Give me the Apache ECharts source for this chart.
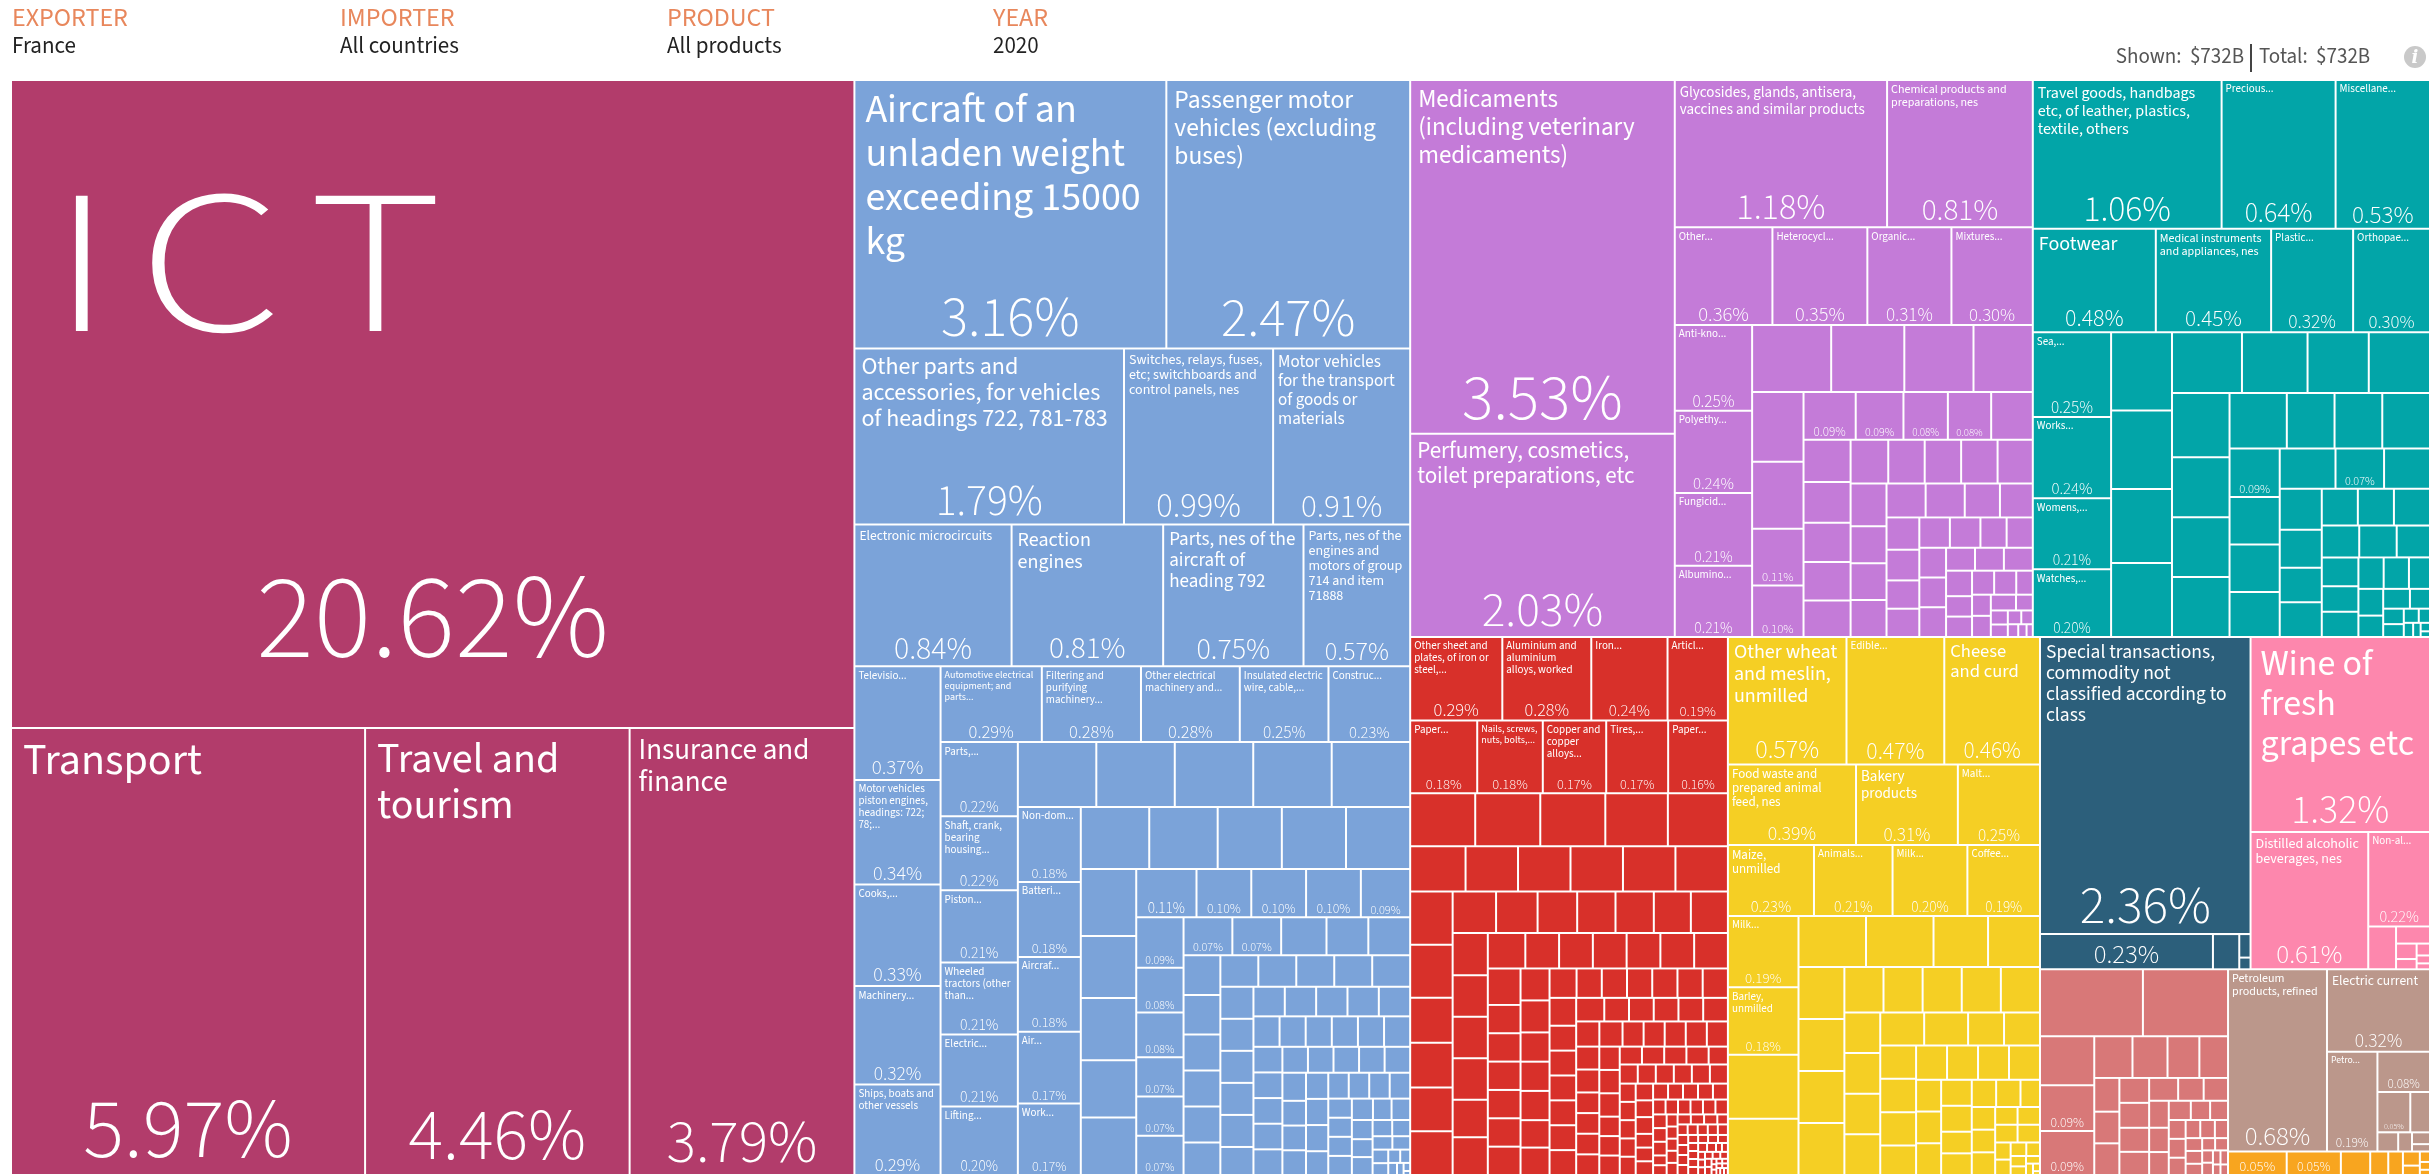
<!DOCTYPE html>
<html>
<head>
<meta charset="utf-8">
<script src="https://cdn.jsdelivr.net/npm/echarts@6/dist/echarts.min.js"></script>
<style>
html,body{margin:0;padding:0;background:#fff;}
#chart{width:2432px;height:1175px;}
</style>
</head>
<body>
<div id="chart"></div>
<script>
// ---------------- DATA (share of total exports, %) ----------------
const headerLabels = ["EXPORTER", "IMPORTER", "PRODUCT", "YEAR"];
const headerValues = ["France", "All countries", "All products", "2020"];
const shownText = "Shown:  $732B";
const totalText = "Total:  $732B";

const sectorNames = ["Services", "Machinery and transport equipment", "Chemicals", "Miscellaneous manufactured articles",
  "Manufactured goods", "Food and live animals", "Commodities nes", "Beverages and tobacco",
  "Crude materials", "Mineral fuels", "Animal and vegetable oils"];
const sectorColors = ["#b23c6b", "#7ba3d9", "#c47bd8", "#02a5a8", "#d8302a", "#f5cf24", "#2c5f7b", "#fd87ad", "#d87878", "#bb978b", "#f8a51f"];

const servicesNamed = [["ICT", 20.62], ["Transport", 5.97], ["Travel and tourism", 4.46], ["Insurance and finance", 3.79]];
const servicesOther = [];

const machineryNamed = [
  ["Aircraft of an unladen weight exceeding 15000 kg", 3.16],
  ["Passenger motor vehicles (excluding buses)", 2.47],
  ["Other parts and accessories, for vehicles of headings 722, 781-783", 1.79],
  ["Switches, relays, fuses, etc; switchboards and control panels, nes", 0.99],
  ["Motor vehicles for the transport of goods or materials", 0.91],
  ["Electronic microcircuits", 0.84],
  ["Reaction engines", 0.81],
  ["Parts, nes of the aircraft of heading 792", 0.75],
  ["Parts, nes of the engines and motors of group 714 and item 71888", 0.57],
  ["Televisio...", 0.37],
  ["Motor vehicles piston engines, headings: 722; 78;...", 0.34],
  ["Cooks,...", 0.33],
  ["Machinery...", 0.32],
  ["Ships, boats and other vessels", 0.294],
  ["Automotive electrical equipment; and parts...", 0.29],
  ["Filtering and purifying machinery...", 0.284],
  ["Other electrical machinery and...", 0.283],
  ["Insulated electric wire, cable,...", 0.254],
  ["Construc...", 0.234],
  ["Parts,...", 0.2162],
  ["Shaft, crank, bearing housing...", 0.2158],
  ["Piston...", 0.2104],
  ["Wheeled tractors (other than...", 0.21],
  ["Electric...", 0.2096],
  ["Lifting...", 0.20],
  ["Non-dom...", 0.1784],
  ["Batteri...", 0.178],
  ["Aircraf...", 0.1776],
  ["Air...", 0.1702],
  ["Work...", 0.1698],
  ["", 0.11], ["", 0.10], ["", 0.10], ["", 0.10], ["", 0.09],
  ["", 0.09], ["", 0.08], ["", 0.08], ["", 0.07], ["", 0.07], ["", 0.07], ["", 0.07], ["", 0.07]
];
const machineryOther = [0.192, 0.192, 0.192, 0.192, 0.192, 0.16, 0.16, 0.15, 0.15, 0.15, 0.14, 0.13, 0.13, 0.12, 0.12,
  0.065, 0.06, 0.06, 0.055, 0.055, 0.05, 0.05, 0.05, 0.045, 0.045, 0.045, 0.045, 0.045, 0.045,
  0.04, 0.04, 0.04, 0.04, 0.04, 0.035, 0.035, 0.035, 0.035, 0.035, 0.035, 0.03, 0.03, 0.03, 0.03, 0.03, 0.03,
  0.028, 0.028, 0.028, 0.028, 0.028, 0.025, 0.025, 0.025, 0.025, 0.025, 0.025, 0.022, 0.022, 0.022, 0.022, 0.022, 0.022,
  0.02, 0.02, 0.02, 0.02, 0.02, 0.017, 0.017, 0.017, 0.017, 0.017, 0.015, 0.015, 0.015, 0.014, 0.014,
  0.012, 0.011, 0.01, 0.009, 0.008, 0.007, 0.006, 0.005, 0.004, 0.003, 0.002, 0.001];

const chemicalsNamed = [
  ["Medicaments (including veterinary medicaments)", 3.53],
  ["Perfumery, cosmetics, toilet preparations, etc", 2.03],
  ["Glycosides, glands, antisera, vaccines and similar products", 1.18],
  ["Chemical products and preparations, nes", 0.81],
  ["Other...", 0.36], ["Heterocycl...", 0.35], ["Organic...", 0.31], ["Mixtures...", 0.30],
  ["Anti-kno...", 0.25], ["Polyethy...", 0.24], ["Fungicid...", 0.212], ["Albumino...", 0.208],
  ["", 0.11], ["", 0.10], ["", 0.094], ["", 0.086], ["", 0.08], ["", 0.078]
];
const chemicalsOther = [0.20, 0.185, 0.175, 0.15, 0.135, 0.13, 0.075, 0.075, 0.072, 0.07, 0.068, 0.065, 0.062,
  0.06, 0.06, 0.06, 0.058, 0.058, 0.05, 0.05, 0.05, 0.05, 0.05, 0.045, 0.042, 0.04, 0.038,
  0.035, 0.035, 0.035, 0.035, 0.03, 0.03, 0.03, 0.03, 0.03, 0.025, 0.025, 0.025, 0.025,
  0.02, 0.02, 0.02, 0.02, 0.015, 0.015, 0.015, 0.015, 0.01, 0.009, 0.008, 0.007, 0.006, 0.005, 0.004, 0.003];

const miscNamed = [
  ["Travel goods, handbags etc, of leather, plastics, textile, others", 1.06],
  ["Precious...", 0.64], ["Miscellane...", 0.53],
  ["Footwear", 0.48], ["Medical instruments and appliances, nes", 0.45], ["Plastic...", 0.32], ["Orthopae...", 0.30],
  ["Sea,...", 0.25], ["Works...", 0.24], ["Womens,...", 0.21], ["Watches,...", 0.20],
  ["", 0.092], ["", 0.074]
];
const miscOther = [0.18, 0.18, 0.17, 0.17, 0.16, 0.15, 0.14, 0.14, 0.14, 0.13, 0.13, 0.13, 0.12, 0.10, 0.10, 0.10,
  0.09, 0.09, 0.085, 0.085, 0.07, 0.065, 0.06, 0.055, 0.055, 0.05, 0.05, 0.05, 0.045, 0.045, 0.04, 0.04,
  0.035, 0.035, 0.03, 0.03, 0.025, 0.025, 0.02, 0.02, 0.015, 0.012, 0.01, 0.008, 0.006, 0.005, 0.004, 0.003, 0.002];

const manufNamed = [
  ["Other sheet and plates, of iron or steel,...", 0.29],
  ["Aluminium and aluminium alloys, worked", 0.28],
  ["Iron...", 0.24], ["Articl...", 0.19],
  ["Paper...", 0.184], ["Nails, screws, nuts, bolts,...", 0.18], ["Copper and copper alloys...", 0.174],
  ["Tires,...", 0.17], ["Paper...", 0.164]
];
const manufOther = [0.13, 0.13, 0.13, 0.125, 0.12, 0.095, 0.09, 0.09, 0.09, 0.09, 0.09, 0.085,
  0.085, 0.072, 0.072, 0.07, 0.07, 0.068, 0.065, 0.062, 0.06, 0.06, 0.058, 0.058, 0.056,
  0.055, 0.055, 0.055, 0.05, 0.05, 0.05, 0.045, 0.045, 0.045, 0.045, 0.045, 0.045, 0.045,
  0.035, 0.035, 0.035, 0.035, 0.035, 0.035, 0.035, 0.035, 0.032, 0.032, 0.032, 0.03, 0.03, 0.03,
  0.028, 0.028, 0.028, 0.028, 0.028, 0.028, 0.028, 0.025, 0.025, 0.025, 0.025, 0.025, 0.025, 0.025,
  0.022, 0.022, 0.022, 0.022, 0.022, 0.022, 0.022, 0.02, 0.02, 0.02, 0.02, 0.02, 0.02, 0.02,
  0.018, 0.018, 0.018, 0.018, 0.018, 0.018, 0.018, 0.015, 0.015, 0.015, 0.015, 0.015, 0.015, 0.015,
  0.013, 0.013, 0.013, 0.013, 0.013, 0.013, 0.013, 0.011, 0.011, 0.011, 0.011, 0.011, 0.011, 0.011, 0.011,
  0.009, 0.009, 0.009, 0.009, 0.009, 0.009, 0.009, 0.009, 0.007, 0.007, 0.007, 0.007, 0.007, 0.007, 0.007, 0.007, 0.007,
  0.005, 0.005, 0.005, 0.005, 0.005, 0.005, 0.005, 0.005, 0.005, 0.005, 0.004, 0.004, 0.004, 0.004, 0.004, 0.004, 0.004, 0.004, 0.004, 0.004,
  0.003, 0.003, 0.003, 0.003, 0.003, 0.003, 0.003, 0.003, 0.003, 0.003, 0.002, 0.002, 0.002, 0.002, 0.002, 0.002, 0.002, 0.002, 0.002, 0.002,
  0.001, 0.001, 0.001, 0.001, 0.001, 0.001, 0.001, 0.001, 0.001, 0.001];

const foodNamed = [
  ["Other wheat and meslin, unmilled", 0.57], ["Edible...", 0.47], ["Cheese and curd", 0.46],
  ["Food waste and prepared animal feed, nes", 0.39], ["Bakery products", 0.31], ["Malt...", 0.25],
  ["Maize, unmilled", 0.23], ["Animals...", 0.21], ["Milk...", 0.20], ["Coffee...", 0.194],
  ["Milk...", 0.19], ["Barley, unmilled", 0.18]
];
const foodOther = [0.17, 0.15, 0.13, 0.13, 0.105, 0.10, 0.09, 0.09, 0.09, 0.09, 0.067, 0.067, 0.067, 0.067, 0.067,
  0.055, 0.055, 0.055, 0.055, 0.055, 0.055, 0.045, 0.045, 0.045, 0.045, 0.045, 0.04, 0.04, 0.04, 0.04, 0.04,
  0.03, 0.03, 0.03, 0.03, 0.03, 0.025, 0.025, 0.025, 0.025, 0.02, 0.02, 0.02, 0.02, 0.015, 0.015, 0.015, 0.015,
  0.01, 0.009, 0.008, 0.007, 0.006, 0.005, 0.004, 0.003, 0.002, 0.001];

const commoditiesNamed = [["Special transactions, commodity not classified according to class", 2.36], ["", 0.23]];
const commoditiesOther = [0.035, 0.01, 0.005];

const beveragesNamed = [["Wine of fresh grapes etc", 1.32], ["Distilled alcoholic beverages, nes", 0.61], ["Non-al...", 0.22]];
const beveragesOther = [0.045, 0.022, 0.012, 0.008, 0.006, 0.004, 0.003];

const crudeNamed = [["", 0.094], ["", 0.09]];
const crudeOther = [0.26, 0.215, 0.10, 0.06, 0.055, 0.05, 0.045, 0.032, 0.03, 0.03, 0.028, 0.028, 0.027, 0.026, 0.025,
  0.022, 0.021, 0.02, 0.018, 0.017, 0.016, 0.014, 0.013, 0.012, 0.012, 0.011, 0.01, 0.01, 0.009, 0.008, 0.008,
  0.007, 0.006, 0.006, 0.005, 0.005, 0.004, 0.004, 0.003, 0.003];

const fuelsNamed = [["Petroleum products, refined", 0.68], ["Electric current", 0.32], ["Petro...", 0.19], ["", 0.08], ["", 0.05]];
const fuelsOther = [0.03, 0.015, 0.01, 0.008, 0.005];

const oilsNamed = [["", 0.052], ["", 0.048]];
const oilsOther = [0.026, 0.016, 0.013, 0.009, 0.006, 0.004, 0.003, 0.002];

const sectorNamed = [servicesNamed, machineryNamed, chemicalsNamed, miscNamed, manufNamed, foodNamed,
  commoditiesNamed, beveragesNamed, crudeNamed, fuelsNamed, oilsNamed];
const sectorOther = [servicesOther, machineryOther, chemicalsOther, miscOther, manufOther, foodOther,
  commoditiesOther, beveragesOther, crudeOther, fuelsOther, oilsOther];

// ---------------- STYLE ----------------
const FONT = "'Source Sans Pro','Source Sans 3','Lato','Roboto',sans-serif";
// name label font sizes (px) for the larger tiles
const nameFontSize = {
  "ICT": 205, "Transport": 44, "Travel and tourism": 42, "Insurance and finance": 29,
  "Aircraft of an unladen weight exceeding 15000 kg": 40,
  "Passenger motor vehicles (excluding buses)": 25.5,
  "Other parts and accessories, for vehicles of headings 722, 781-783": 24,
  "Switches, relays, fuses, etc; switchboards and control panels, nes": 14,
  "Motor vehicles for the transport of goods or materials": 17,
  "Electronic microcircuits": 13.5, "Reaction engines": 20,
  "Parts, nes of the aircraft of heading 792": 19,
  "Parts, nes of the engines and motors of group 714 and item 71888": 14,
  "Medicaments (including veterinary medicaments)": 25,
  "Perfumery, cosmetics, toilet preparations, etc": 23,
  "Glycosides, glands, antisera, vaccines and similar products": 15,
  "Chemical products and preparations, nes": 12,
  "Travel goods, handbags etc, of leather, plastics, textile, others": 16,
  "Footwear": 20, "Medical instruments and appliances, nes": 12,
  "Special transactions, commodity not classified according to class": 19.5,
  "Wine of fresh grapes etc": 36, "Distilled alcoholic beverages, nes": 14,
  "Other wheat and meslin, unmilled": 20, "Cheese and curd": 18.5,
  "Food waste and prepared animal feed, nes": 13, "Bakery products": 15,
  "Petroleum products, refined": 12, "Electric current": 13.5, "Maize, unmilled": 13
};
const LH = 1.1;
const DISPLAY_STRETCH = 1.25;   // display-size names are drawn wide in the reference

// ---------------- RENDERING ----------------
const chart = echarts.init(document.getElementById('chart'), null, {renderer: 'canvas', width: 2432, height: 1175});
const BOX = {left: 12, top: 81, width: 2417, height: 1093};

const mctx = document.createElement('canvas').getContext('2d');
function tw(text, size, weight) {
  mctx.font = weight + ' ' + size + 'px ' + FONT;
  return mctx.measureText(text).width;
}
function wrap(text, size, weight, maxW) {
  const words = text.split(' ');
  const lines = [];
  let cur = '';
  for (const w of words) {
    const t = cur ? cur + ' ' + w : w;
    if (!cur || tw(t, size, weight) <= maxW) cur = t;
    else { lines.push(cur); cur = w; }
  }
  if (cur) lines.push(cur);
  return lines;
}
function namePads(s) {
  if (s > 100) return {top: Math.round(0.45 * s), left: Math.round(0.19 * s)};
  const p = Math.max(2, Math.round(0.26 * s));
  return {top: p, left: p};
}
function displayName(text, s) {
  return s > 100 ? text.split('').join('\u2009') : text;
}
function fitName(text, w, h) {
  const fixed = nameFontSize[text];
  const sizes = [];
  const start = fixed ? fixed : Math.min(11, 0.2 * w, 0.2 * h);
  sizes.push(start);
  for (let s = Math.floor(start); s >= 8; s--) if (s !== start) sizes.push(s);
  const limitH = fixed ? 0.85 : 0.6;
  for (const s of sizes) {
    const weight = s >= 60 ? 300 : 400;
    const pads = namePads(s);
    const maxW = (fixed ? 0.95 * w : w - 3) - pads.left;
    if (maxW <= 4) continue;
    const shown = displayName(text, s);
    const lines = wrap(shown, s, weight, maxW);
    let widest = 0;
    lines.forEach(l => { widest = Math.max(widest, tw(l, s, weight) * (s > 100 ? DISPLAY_STRETCH : 1)); });
    const blockH = lines.length * s * LH + pads.top;
    if (widest <= maxW && blockH <= h * limitH) return {s, weight, pads, lines, blockH};
  }
  return null;
}
function fitPct(text, w, h, nameFit) {
  let s;
  if (nameFit) s = Math.min(0.215 * Math.sqrt(w * h), 0.275 * w, 0.25 * h, 0.7 * (h - nameFit.blockH), 120);
  else s = Math.min(0.26 * w, 0.8 * h, 120);
  const wd = tw(text, s, 300);
  if (wd > 0.9 * w) s = s * 0.9 * w / wd;
  return s >= 8 ? s : 0;
}
function pctText(v) { return v.toFixed(2) + '%'; }

function levels(border) {
  return [
    {itemStyle: {borderWidth: 0, gapWidth: 2, borderColor: border}},
    {itemStyle: {borderWidth: 0, gapWidth: 2, borderColor: border}},
    {itemStyle: {borderWidth: 0, gapWidth: 0}}
  ];
}
function baseSeries(extra) {
  return Object.assign({
    type: 'treemap', left: BOX.left, top: BOX.top, width: BOX.width, height: BOX.height,
    roam: false, nodeClick: false, silent: true, animation: false,
    breadcrumb: {show: false}, squareRatio: 1, sort: 'desc', visibleMin: 0,
    label: {show: false}, upperLabel: {show: false},
    emphasis: {disabled: true}
  }, extra);
}
function buildData(leafFn, colorFn) {
  return sectorNames.map((sn, i) => {
    const named = sectorNamed[i].map((d, j) => leafFn(d[0], d[1], true, i, j));
    const other = sectorOther[i].map((v, k) => leafFn('', v, false, i, sectorNamed[i].length + k));
    return {name: sn, itemStyle: {color: colorFn(i)}, children: named.concat(other)};
  });
}

// pass 1: layout only
chart.setOption({
  animation: false,
  series: [baseSeries({levels: levels('#fff'), data: buildData((n, v) => ({name: n, value: v}), i => sectorColors[i])})]
});

let layouts = null, secLayouts = null;
try {
  const data = chart.getModel().getSeriesByIndex(0).getData();
  secLayouts = data.tree.root.children.map(sec => sec.getLayout());
  layouts = data.tree.root.children.map(sec => sec.children.map(leaf => leaf.getLayout()));
} catch (e) { layouts = null; }

function getLay(i, j) {
  if (!layouts || !layouts[i] || !layouts[i][j]) return null;
  return layouts[i][j];
}

const displayTexts = [];
const nameLeaf = (n, v, labeled, i, j) => {
  const item = {name: n, value: v};
  const lay = getLay(i, j);
  if (labeled && n && lay) {
    const f = fitName(n, lay.width, lay.height);
    if (f && f.s > 100) {
      // display-size name: drawn as a stretched text element placed from the treemap layout
      const sl = secLayouts[i];
      displayTexts.push({
        type: 'text', z: 10,
        x: BOX.left + sl.x + lay.x + f.pads.left, y: BOX.top + sl.y + lay.y + f.pads.top,
        scaleX: DISPLAY_STRETCH, silent: true,
        style: {text: f.lines.join('\n'), fill: '#fff', fontSize: f.s, fontWeight: f.weight, fontFamily: FONT,
          lineHeight: Math.round(f.s * LH), align: 'left', textAlign: 'left', verticalAlign: 'top', textVerticalAlign: 'top'}
      });
    } else if (f) {
      item.label = {
        show: true, position: 'insideTopLeft', distance: 0,
        formatter: f.lines.join('\n'), fontSize: f.s, fontWeight: f.weight, fontFamily: FONT,
        lineHeight: Math.round(f.s * LH), color: '#fff', padding: [f.pads.top, 2, 0, f.pads.left],
        overflow: 'truncate', ellipsis: '...'
      };
    }
  }
  return item;
};
const pctLeaf = (n, v, labeled, i, j) => {
  const item = {name: n, value: v};
  const lay = getLay(i, j);
  if (labeled && lay) {
    const nf = n ? fitName(n, lay.width, lay.height) : null;
    const t = pctText(v);
    const s = fitPct(t, lay.width, lay.height, nf);
    if (s) {
      const padB = s > 100 ? Math.round(0.5 * s) : Math.max(2, Math.min(10, Math.round(0.12 * s)));
      item.label = {
        show: true, position: 'insideBottom', distance: 0,
        formatter: t, fontSize: Math.round(s * 10) / 10, fontWeight: 300, fontFamily: FONT,
        lineHeight: Math.round(s * 0.6), color: '#fff', padding: [0, 0, padB, 0], overflow: 'none'
      };
    }
  }
  return item;
};

function txt(x, y, text, fill, size, align) {
  return {type: 'text', x: x, y: y, style: {text: text, fill: fill, fontSize: size, fontFamily: FONT,
    align: align, textAlign: align, verticalAlign: 'middle', textVerticalAlign: 'middle'}};
}
const header = [];
const hx = [12, 340, 667, 993];
headerLabels.forEach((t, k) => {
  header.push(txt(hx[k], 20, t, '#e8875c', 26, 'left'));
  header.push(txt(hx[k], 48, headerValues[k], '#222', 23, 'left'));
});
header.push(txt(2244, 58, shownText, '#555', 21, 'right'));
header.push({type: 'line', shape: {x1: 2251, y1: 44, x2: 2251, y2: 72}, style: {stroke: '#444', lineWidth: 2}});
header.push(txt(2259, 58, totalText, '#555', 21, 'left'));
header.push({type: 'circle', shape: {cx: 2415, cy: 57, r: 11}, style: {fill: '#c9c9c9'}});
header.push({type: 'text', x: 2415, y: 58, style: {text: 'i', fill: '#fff', fontSize: 18, fontWeight: 'bold', fontStyle: 'italic',
  fontFamily: 'DejaVu Serif', align: 'center', textAlign: 'center', verticalAlign: 'middle', textVerticalAlign: 'middle'}});

const seriesA = baseSeries({levels: levels('#fff'), data: buildData(nameLeaf, i => sectorColors[i])});
const seriesB = baseSeries({levels: levels('rgba(0,0,0,0)'), data: buildData(pctLeaf, () => 'rgba(0,0,0,0)')});

chart.setOption({
  animation: false,
  graphic: header.concat(displayTexts),
  series: [seriesA, seriesB]
}, true);
</script>
</body>
</html>
